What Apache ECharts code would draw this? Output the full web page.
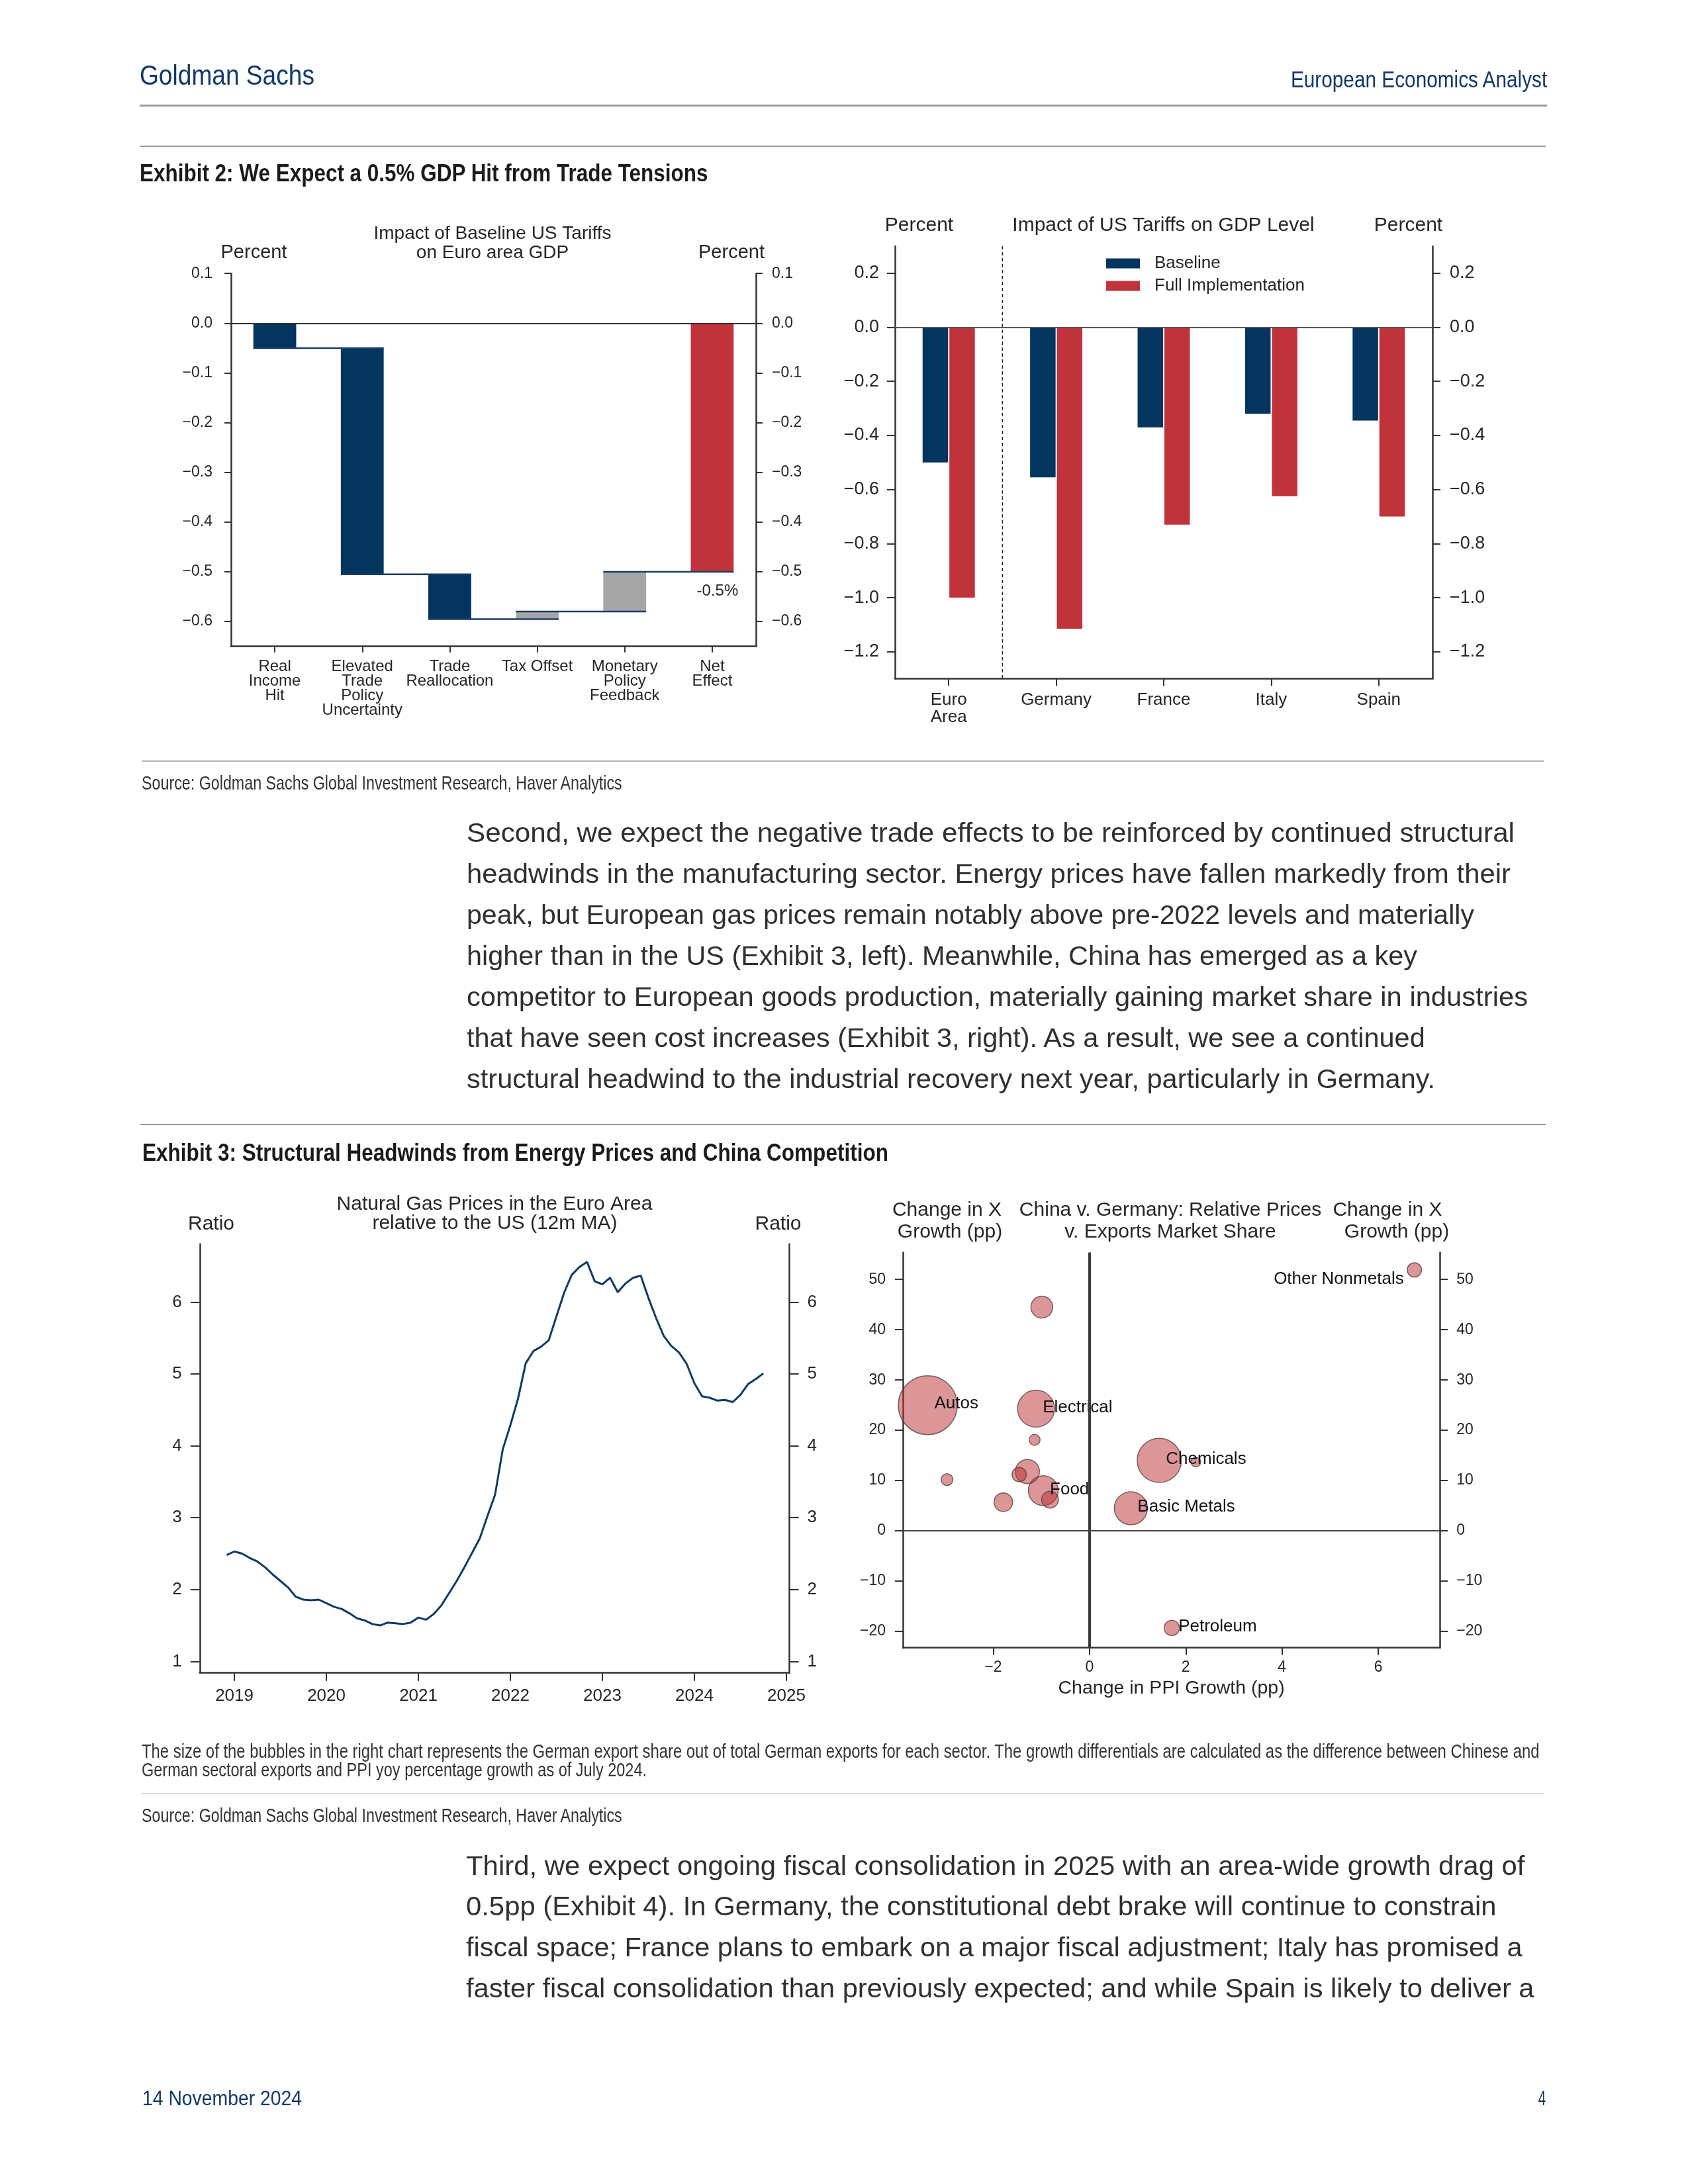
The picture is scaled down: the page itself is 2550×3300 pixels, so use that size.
<!DOCTYPE html>
<html>
<head>
<meta charset="utf-8">
<script src="https://cdn.jsdelivr.net/npm/echarts/dist/echarts.min.js"></script>
<style>
html,body{margin:0;padding:0;background:#fff;}
#page{position:relative;width:2550px;height:3300px;overflow:hidden;background:#fff;}
#chart{position:absolute;left:0;top:0;width:2550px;height:3300px;}
.t{position:absolute;white-space:nowrap;}
.rule{position:absolute;}
</style>
</head>
<body>
<div id="page"><div id="chart"></div></div>
<script>
// ---------------- DATA ----------------
// Exhibit 2 left: waterfall (percent)
const wfCategories = ['Real\nIncome\nHit', 'Elevated\nTrade\nPolicy\nUncertainty', 'Trade\nReallocation', 'Tax Offset', 'Monetary\nPolicy\nFeedback', 'Net\nEffect'];
const wfContrib = [-0.05, -0.455, -0.09, 0.015, 0.08];
const wfNet = -0.5;
const wfTicks = [0.1, 0.0, -0.1, -0.2, -0.3, -0.4, -0.5, -0.6];

// Exhibit 2 right: bars (percent)
const countries = ['Euro\nArea', 'Germany', 'France', 'Italy', 'Spain'];
const baselineImpact = [-0.50, -0.555, -0.37, -0.32, -0.345];
const fullImpact = [-1.00, -1.115, -0.73, -0.625, -0.70];
const barTicks = [0.2, 0.0, -0.2, -0.4, -0.6, -0.8, -1.0, -1.2];

// Exhibit 3 left: monthly ratio, starting Dec 2018
const gasStart = '2018-12';
const gasRatio = [2.48,
  2.53, 2.50, 2.44, 2.39, 2.31, 2.21, 2.12, 2.03, 1.90, 1.86, 1.85, 1.86,
  1.81, 1.76, 1.73, 1.67, 1.60, 1.57, 1.52, 1.50, 1.54, 1.53, 1.52, 1.54,
  1.61, 1.58, 1.66, 1.78, 1.95, 2.12, 2.31, 2.51, 2.71, 3.02, 3.32, 3.95,
  4.29, 4.66, 5.15, 5.32, 5.38, 5.47, 5.80, 6.13, 6.38, 6.49, 6.56, 6.29,
  6.25, 6.34, 6.14, 6.26, 6.34, 6.37, 6.06, 5.78, 5.53, 5.39, 5.30, 5.14,
  4.87, 4.69, 4.67, 4.63, 4.64, 4.61, 4.71, 4.86, 4.93, 5.01];
const yearTicks = [2019, 2020, 2021, 2022, 2023, 2024, 2025];
const ratioTicks = [1, 2, 3, 4, 5, 6];

// Exhibit 3 right: bubbles
const sectorNames = ['Other Nonmetals', '', 'Autos', 'Electrical', '', 'Chemicals', '', '', '', '', 'Food', '', '', 'Basic Metals', 'Petroleum'];
const ppiChange =    [6.75, -0.99, -3.36, -1.11, -1.14, 1.45, 2.21, -2.96, -1.29, -1.46, -0.96, -0.82, -1.79, 0.86, 1.71];
const exportChange = [51.9, 44.5, 25.0, 24.3, 18.1, 14.0, 13.7, 10.2, 11.8, 11.2, 8.0, 6.2, 5.7, 4.5, -19.3];
const exportShare =  [0.95, 2.2, 16.0, 6.3, 0.56, 9.0, 0.44, 0.65, 2.7, 0.95, 4.1, 1.3, 1.6, 5.05, 1.07];
const ppiTicks = [-2, 0, 2, 4, 6];
const xGrowthTicks = [-20, -10, 0, 10, 20, 30, 40, 50];

// ---------------- STYLE ----------------
const NAVY = '#03355f', RED = '#c0333a', GRAY = '#a6a6a6', TXT = '#262626', AX = '#333333';
const HNAVY = '#12396a';
const FONT = "'Liberation Sans', Arial, sans-serif";

// ---------------- PAGE TEXT ----------------
const page = document.getElementById('page');
const mctx = document.createElement('canvas').getContext('2d');
function addText(t) {
  const font = (t.weight || 'normal') + ' ' + t.fs + 'px ' + FONT;
  mctx.font = font;
  const nat = mctx.measureText(t.text).width;
  const sx = t.w ? t.w / nat : 1;
  const d = document.createElement('div');
  d.className = 't';
  d.textContent = t.text;
  d.style.font = font;
  d.style.lineHeight = t.fs + 'px';
  d.style.color = t.color || TXT;
  d.style.top = (t.base - 0.8465 * t.fs) + 'px';
  if (t.align === 'right') {
    d.style.right = (2550 - t.x) + 'px';
    d.style.transformOrigin = 'right top';
  } else {
    d.style.left = t.x + 'px';
    d.style.transformOrigin = 'left top';
  }
  d.style.transform = 'scaleX(' + sx + ')';
  page.appendChild(d);
}
function addRule(x1, x2, y, h, color) {
  const d = document.createElement('div');
  d.className = 'rule';
  d.style.left = x1 + 'px'; d.style.width = (x2 - x1) + 'px';
  d.style.top = y + 'px'; d.style.height = h + 'px'; d.style.background = color;
  page.appendChild(d);
}

addText({text: 'Goldman Sachs', x: 211, base: 128.3, fs: 43.3, w: 264, color: HNAVY});
addText({text: 'European Economics Analyst', x: 2337, base: 131.5, fs: 35, w: 389, color: HNAVY, align: 'right'});
addRule(211, 2337, 158, 2.5, '#9a9a9a');
addRule(211, 2335, 220, 2, '#9a9a9a');
addText({text: 'Exhibit 2: We Expect a 0.5% GDP Hit from Trade Tensions', x: 211, base: 275, fs: 37.7, w: 859, weight: 'bold', color: '#1b1b1b'});
addRule(214, 2333, 1149, 1.5, '#b4b4b4');
addText({text: 'Source: Goldman Sachs Global Investment Research, Haver Analytics', x: 214, base: 1193.5, fs: 29, w: 727, color: '#333'});

const para1 = [
  ['Second, we expect the negative trade effects to be reinforced by continued structural', 2288],
  ['headwinds in the manufacturing sector. Energy prices have fallen markedly from their', 2282],
  ['peak, but European gas prices remain notably above pre-2022 levels and materially', 2227],
  ['higher than in the US (Exhibit 3, left). Meanwhile, China has emerged as a key', 2141],
  ['competitor to European goods production, materially gaining market share in industries', 2308],
  ['that have seen cost increases (Exhibit 3, right). As a result, we see a continued', 2155],
  ['structural headwind to the industrial recovery next year, particularly in Germany.', 2168]
];
para1.forEach((l, i) => addText({text: l[0], x: 705, base: 1272.7 + i * 62.05, fs: 41, w: l[1] - 705, color: '#303030'}));

addRule(211, 2335, 1697.5, 2, '#999');
addText({text: 'Exhibit 3: Structural Headwinds from Energy Prices and China Competition', x: 214.5, base: 1754.5, fs: 37.7, w: 1127, weight: 'bold', color: '#1b1b1b'});

addText({text: 'The size of the bubbles in the right chart represents the German export share out of total German exports for each sector. The growth differentials are calculated as the difference between Chinese and', x: 213.5, base: 2656.7, fs: 30, w: 2112, color: '#333'});
addText({text: 'German sectoral exports and PPI yoy percentage growth as of July 2024.', x: 213.5, base: 2684, fs: 30, w: 763, color: '#333'});
addRule(213, 2333, 2709.5, 1.5, '#aaa');
addText({text: 'Source: Goldman Sachs Global Investment Research, Haver Analytics', x: 213.5, base: 2753.3, fs: 29, w: 727, color: '#333'});

const para2 = [
  ['Third, we expect ongoing fiscal consolidation in 2025 with an area-wide growth drag of', 2303],
  ['0.5pp (Exhibit 4). In Germany, the constitutional debt brake will continue to constrain', 2260],
  ['fiscal space; France plans to embark on a major fiscal adjustment; Italy has promised a', 2299],
  ['faster fiscal consolidation than previously expected; and while Spain is likely to deliver a', 2317]
];
para2.forEach((l, i) => addText({text: l[0], x: 703.5, base: 2833.5 + i * 61.7, fs: 41, w: l[1] - 703.5, color: '#303030'}));

addText({text: '14 November 2024', x: 214.6, base: 3181.7, fs: 31, w: 241, color: HNAVY});
addText({text: '4', x: 2335, base: 3181.7, fs: 31, w: 11.5, color: HNAVY, align: 'right'});

// ---------------- CHARTS ----------------
const minus = s => s.replace('-', '\u2212');
const fmt1 = v => minus((Math.abs(v) < 1e-9 ? 0 : v).toFixed(1));
const fmt0 = v => minus(String(Math.round(v)));

function yAx(grid, pos, min, max, ticks, fs, margin, fmt, tickLen) {
  return {type: 'value', gridIndex: grid, position: pos, min: min, max: max,
    splitLine: {show: false},
    axisLine: {show: true, onZero: false, lineStyle: {color: AX, width: 2.5}},
    axisTick: {show: true, inside: false, length: tickLen, customValues: ticks, lineStyle: {color: AX, width: 2}},
    axisLabel: {show: true, customValues: ticks, formatter: fmt, fontSize: fs, fontFamily: FONT, color: TXT, margin: margin}};
}

// waterfall construction
let cum = 0;
const wfBase = [], wfBar = [], wfLevels = [];
wfContrib.forEach((v, i) => {
  const s = cum, e = cum + v;
  wfBase.push(Math.max(s, e));
  wfBar.push(Math.min(s, e) - Math.max(s, e));
  cum = e;
  wfLevels.push([i, e]);
});
wfBase.push(0); wfBar.push(wfNet);
const wfColors = wfContrib.map((v, i) => v > 0 ? GRAY : NAVY).concat([RED]);
const WF_BAR_FRAC = 0.49;

const [gy, gm] = gasStart.split('-').map(Number);
const gasData = gasRatio.map((v, i) => [gy + (gm - 1 + i) / 12, v]);

const bubbleData = sectorNames.map((n, i) => {
  const item = {name: n, value: [ppiChange[i], exportChange[i], exportShare[i]]};
  if (n) {
    item.label = (n === 'Other Nonmetals')
      ? {show: true, position: ['50%', '50%'], align: 'right', verticalAlign: 'middle', offset: [-16, 14]}
      : {show: true, position: ['50%', '50%'], align: 'left', verticalAlign: 'middle', offset: [10, -2]};
  }
  return item;
});

const GT_DY = 4;
function gtext(text, x, y, fs) {
  return {type: 'text', x: x, y: y + GT_DY, silent: true,
    style: {text: text, font: fs + 'px ' + FONT, fill: TXT, textAlign: 'center', textVerticalAlign: 'middle', align: 'center', verticalAlign: 'middle'}};
}

const chart = echarts.init(document.getElementById('chart'), null, {renderer: 'canvas', devicePixelRatio: 1});
const option = {
  animation: false,
  backgroundColor: 'transparent',
  textStyle: {fontFamily: FONT},
  grid: [
    {left: 349, top: 413.2, width: 793, height: 563.5, outerBoundsMode: 'none', containLabel: false},
    {left: 1352, top: 372, width: 812, height: 653.6, outerBoundsMode: 'none', containLabel: false},
    {left: 301.8, top: 1879.7, width: 890.8, height: 648, outerBoundsMode: 'none', containLabel: false},
    {left: 1364, top: 1892.4, width: 811.2, height: 597.3, outerBoundsMode: 'none', containLabel: false}
  ],
  legend: {
    data: ['Baseline', 'Full Implementation'], orient: 'vertical', left: 1666, top: 380,
    itemWidth: 51, itemHeight: 15, itemGap: 8, icon: 'rect', selectedMode: false,
    textStyle: {fontSize: 26, lineHeight: 26, fontFamily: FONT, color: TXT, padding: [0, 0, 0, 17]}
  },
  xAxis: [
    {type: 'category', gridIndex: 0, data: wfCategories,
      axisLine: {show: true, onZero: false, lineStyle: {color: AX, width: 2.5}},
      axisTick: {show: true, alignWithLabel: true, length: 9, lineStyle: {color: AX, width: 2}},
      axisLabel: {interval: 0, fontSize: 24, lineHeight: 22, margin: 20, color: TXT, fontFamily: FONT},
      splitLine: {show: false}},
    {type: 'category', gridIndex: 1, data: countries,
      axisLine: {show: true, onZero: false, lineStyle: {color: AX, width: 2.5}},
      axisTick: {show: true, alignWithLabel: true, length: 11, lineStyle: {color: AX, width: 2}},
      axisLabel: {interval: 0, fontSize: 26, lineHeight: 26, margin: 19, color: TXT, fontFamily: FONT},
      splitLine: {show: false}},
    {type: 'value', gridIndex: 2, min: 2018.624, max: 2025.033, splitLine: {show: false},
      axisLine: {show: true, onZero: false, lineStyle: {color: AX, width: 2.5}},
      axisTick: {show: true, length: 12, customValues: yearTicks, lineStyle: {color: AX, width: 2}},
      axisLabel: {customValues: yearTicks, formatter: v => String(Math.round(v)), fontSize: 26, margin: 22, color: TXT, fontFamily: FONT}},
    {type: 'value', gridIndex: 3, min: -3.876, max: 7.28, splitLine: {show: false},
      axisLine: {show: true, onZero: false, lineStyle: {color: AX, width: 2.5}},
      axisTick: {show: true, length: 11, customValues: ppiTicks, lineStyle: {color: AX, width: 2}},
      axisLabel: {customValues: ppiTicks, formatter: fmt0, fontSize: 23, margin: 18, color: TXT, fontFamily: FONT},
      name: 'Change in PPI Growth (pp)', nameLocation: 'middle', nameGap: 47,
      nameTextStyle: {fontSize: 28.5, color: TXT, fontFamily: FONT}}
  ],
  yAxis: [
    yAx(0, 'left', -0.65, 0.1, wfTicks, 23, 28, fmt1, 10),
    yAx(0, 'right', -0.65, 0.1, wfTicks, 23, 24, fmt1, 10),
    yAx(1, 'left', -1.3, 0.3, barTicks, 27, 24, fmt1, 12),
    yAx(1, 'right', -1.3, 0.3, barTicks, 27, 26, fmt1, 12),
    yAx(2, 'left', 0.84, 6.81, ratioTicks, 26, 27, fmt0, 14),
    yAx(2, 'right', 0.84, 6.81, ratioTicks, 26, 27, fmt0, 14),
    yAx(3, 'left', -23.24, 55.37, xGrowthTicks, 23, 26, fmt0, 12),
    yAx(3, 'right', -23.24, 55.37, xGrowthTicks, 23, 25, fmt0, 12)
  ],
  series: [
    // waterfall
    {type: 'bar', name: 'wfBase', xAxisIndex: 0, yAxisIndex: 0, stack: 'wf', barWidth: (WF_BAR_FRAC * 100) + '%',
      data: wfBase, itemStyle: {color: 'rgba(0,0,0,0)'}, silent: true,
      markLine: {silent: true, symbol: 'none', label: {show: false}, lineStyle: {color: AX, width: 2, type: 'solid'}, data: [{yAxis: 0}]}},
    {type: 'bar', name: 'wf', xAxisIndex: 0, yAxisIndex: 0, stack: 'wf', barWidth: (WF_BAR_FRAC * 100) + '%',
      data: wfBar.map((v, i) => {
        const it = {value: v, itemStyle: {color: wfColors[i]}};
        if (i === wfBar.length - 1) {
          it.label = {show: true, position: 'bottom', distance: 17, offset: [8, 0],
            formatter: p => p.value.toFixed(1) + '%', fontSize: 24, color: TXT, fontFamily: FONT};
        }
        return it;
      })},
    {type: 'custom', name: 'wfConnectors', xAxisIndex: 0, yAxisIndex: 0, data: wfLevels, silent: true, z: 3,
      encode: {x: 0, y: 1},
      renderItem: (params, api) => {
        const p = api.coord([api.value(0), api.value(1)]);
        const band = api.size([1, 0])[0];
        const hw = band * WF_BAR_FRAC / 2;
        return {type: 'line', shape: {x1: p[0] - hw, y1: p[1], x2: p[0] + band + hw, y2: p[1]},
          style: {stroke: '#1a3d66', lineWidth: 2.5}};
      }},
    // grouped bars
    {type: 'bar', name: 'Baseline', xAxisIndex: 1, yAxisIndex: 2, data: baselineImpact, barWidth: 38.5, barGap: '5%',
      itemStyle: {color: NAVY},
      markLine: {silent: true, symbol: 'none', label: {show: false}, lineStyle: {color: '#555', width: 2, type: 'solid'}, data: [{yAxis: 0}]}},
    {type: 'bar', name: 'Full Implementation', xAxisIndex: 1, yAxisIndex: 2, data: fullImpact, barWidth: 38.5, barGap: '5%',
      itemStyle: {color: RED}},
    {type: 'custom', name: 'separator', xAxisIndex: 1, yAxisIndex: 2, data: [[0, 0]], silent: true, encode: {x: 0, y: 1},
      renderItem: (params, api) => {
        const p = api.coord([0, 0]);
        const band = api.size([1, 0])[0];
        const cs = params.coordSys;
        const x = p[0] + band / 2;
        return {type: 'line', shape: {x1: x, y1: cs.y, x2: x, y2: cs.y + cs.height},
          style: {stroke: '#222', lineWidth: 1.5, lineDash: [5, 4]}};
      }},
    // gas ratio line
    {type: 'line', name: 'Gas ratio', xAxisIndex: 2, yAxisIndex: 4, data: gasData, showSymbol: false, symbol: 'none',
      lineStyle: {color: '#0f3a67', width: 3}},
    // bubbles
    {type: 'scatter', name: 'Sectors', xAxisIndex: 3, yAxisIndex: 6, data: bubbleData,
      symbolSize: val => 22.25 * Math.sqrt(val[2]),
      itemStyle: {color: 'rgba(187,45,49,0.5)', borderColor: 'rgba(80,60,60,0.75)', borderWidth: 1.5, opacity: 1},
      label: {show: false, fontSize: 26, color: '#111', fontFamily: FONT, formatter: p => p.name},
      markLine: {silent: true, symbol: 'none', label: {show: false},
        data: [
          {xAxis: 0, lineStyle: {color: '#3a3a3a', width: 4, type: 'solid'}},
          {yAxis: 0, lineStyle: {color: '#444', width: 2, type: 'solid'}}
        ]}}
  ],
  graphic: [
    gtext('Impact of Baseline US Tariffs', 744, 349, 28),
    gtext('on Euro area GDP', 744, 378, 28),
    gtext('Percent', 383.5, 378, 29),
    gtext('Percent', 1105, 378, 29),
    gtext('Percent', 1388.5, 337, 30),
    gtext('Impact of US Tariffs on GDP Level', 1757.5, 337, 30),
    gtext('Percent', 2127.5, 337, 30),
    gtext('Natural Gas Prices in the Euro Area', 747, 1816, 30),
    gtext('relative to the US (12m MA)', 747.5, 1845, 30),
    gtext('Ratio', 319, 1846, 30),
    gtext('Ratio', 1175.5, 1846, 30),
    gtext('Change in X', 1430.5, 1825, 30),
    gtext('Growth (pp)', 1435, 1858, 30),
    gtext('China v. Germany: Relative Prices', 1768, 1825, 30),
    gtext('v. Exports Market Share', 1768, 1858, 30),
    gtext('Change in X', 2096, 1825, 30),
    gtext('Growth (pp)', 2110, 1858, 30)
  ]
};
chart.setOption(option);
</script>
</body>
</html>
